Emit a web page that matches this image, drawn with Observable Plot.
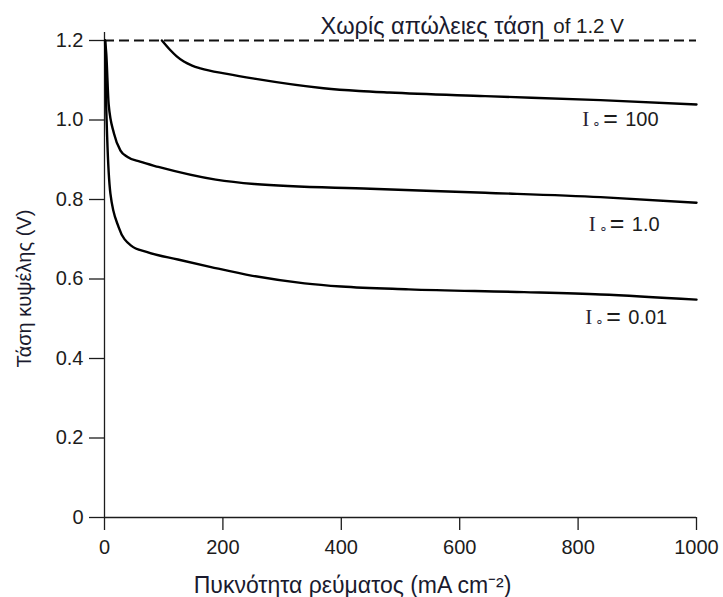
<!DOCTYPE html>
<html>
<head>
<meta charset="utf-8">
<script src="https://cdn.jsdelivr.net/npm/d3@7"></script>
<script src="https://cdn.jsdelivr.net/npm/@observablehq/plot@0.6"></script>
<style>
  html, body { margin: 0; padding: 0; background: #fff; }
  #chart svg { display: block; }
</style>
</head>
<body>
<div id="chart"></div>
<script>
const xTicks = [0, 200, 400, 600, 800, 1000];
const yTicks = [0, 0.2, 0.4, 0.6, 0.8, 1.0, 1.2];
const xTitle = "Πυκνότητα ρεύματος (mA cm⁻²)";
const yTitle = "Τάση κυψέλης (V)";

const noLossVoltage = 1.2;
const noLossGreek = "Χωρίς απώλειες τάση";
const noLossValue = "of 1.2 V";

const io001X = [1, 2.5, 4.5, 10, 24, 45, 71, 124, 180, 250, 338, 400, 514, 709, 838, 1000];
const io001Y = [1.2, 1.06, 0.957, 0.815, 0.730, 0.684, 0.668, 0.649, 0.630, 0.608, 0.589, 0.581, 0.574, 0.567, 0.561, 0.548];

const io1X = [1, 3, 7, 16, 27, 39, 60, 91, 188, 253, 449, 643, 838, 1000];
const io1Y = [1.2, 1.167, 1.04, 0.966, 0.923, 0.907, 0.895, 0.882, 0.850, 0.839, 0.827, 0.817, 0.806, 0.792];

const io100X = [97, 111, 122, 134, 148, 162, 207, 253, 370, 430, 481, 643, 838, 1000];
const io100Y = [1.2, 1.176, 1.160, 1.147, 1.137, 1.130, 1.116, 1.104, 1.080, 1.073, 1.069, 1.060, 1.050, 1.039];

const seriesValues = ["100", "1.0", "0.01"];
const labelX = [807, 818, 812];
const labelY = [1.002, 0.738, 0.504];

const toRows = (xs, ys, name) => xs.map((x, i) => ({x, y: ys[i], series: name}));
const curves = [
  ...toRows(io001X, io001Y, "0.01"),
  ...toRows(io1X, io1Y, "1.0"),
  ...toRows(io100X, io100Y, "100")
];
const labels = seriesValues.map((t, i) => ({t, x: labelX[i], y: labelY[i]}));

const font = "'Liberation Sans', Arial, sans-serif";
const ink = "#1c1c1c";

const chart = Plot.plot({
  width: 723,
  height: 597,
  marginLeft: 104,
  marginRight: 27,
  marginTop: 40,
  marginBottom: 80,
  style: {fontFamily: font, fontSize: "20px", color: ink, background: "#fff"},
  x: {domain: [0, 1000]},
  y: {domain: [0, 1.2]},
  marks: [
    Plot.axisX({ticks: xTicks, tickSize: 13, tickPadding: 9, fontSize: 20, strokeWidth: 1.3,
      tickFormat: d => String(d), label: null}),
    Plot.axisY({ticks: yTicks, tickSize: 15, tickPadding: 6, fontSize: 20, strokeWidth: 1.3,
      tickFormat: d => d === 0 ? "0" : d.toFixed(1), label: null}),
    Plot.ruleY([0], {stroke: ink, strokeWidth: 1.3}),
    Plot.ruleX([0], {y1: 0, y2: 1.22, stroke: ink, strokeWidth: 1.3}),
    Plot.ruleY([noLossVoltage], {stroke: "#111", strokeWidth: 2, strokeDasharray: "10,5"}),
    Plot.line(curves, {x: "x", y: "y", z: "series", stroke: "#000", strokeWidth: 2.4, curve: "monotone-x"}),
    Plot.text([noLossGreek], {x: 365, y: noLossVoltage, dy: -14, textAnchor: "start", fontSize: 23.5, fill: "#1a1a2e"}),
    Plot.text([noLossValue], {x: 758, y: noLossVoltage, dy: -14, textAnchor: "start", fontSize: 20.5, fill: ink}),
    Plot.text(labels, {x: "x", y: "y", text: () => "I", textAnchor: "start", fontSize: 21, fontFamily: "'Liberation Serif', serif", fill: "#2a2230"}),
    Plot.text(labels, {x: "x", y: "y", text: () => "∘", dx: 10, dy: 4, textAnchor: "start", fontSize: 14, fill: "#2a2a40"}),
    Plot.text(labels, {x: "x", y: "y", text: () => "=", dx: 21, textAnchor: "start", fontSize: 25, fill: ink}),
    Plot.text(labels, {x: "x", y: "y", text: "t", dx: 43, textAnchor: "start", fontSize: 20, fill: ink}),
    Plot.text([xTitle], {x: 419, y: -0.171, textAnchor: "middle", fontSize: 23, fill: "#1a1a2e"}),
    Plot.text([yTitle], {x: -135, y: 0.576, rotate: -90, textAnchor: "middle", fontSize: 20, fill: "#1a1a2e"})
  ]
});
document.getElementById("chart").appendChild(chart);
</script>
</body>
</html>
